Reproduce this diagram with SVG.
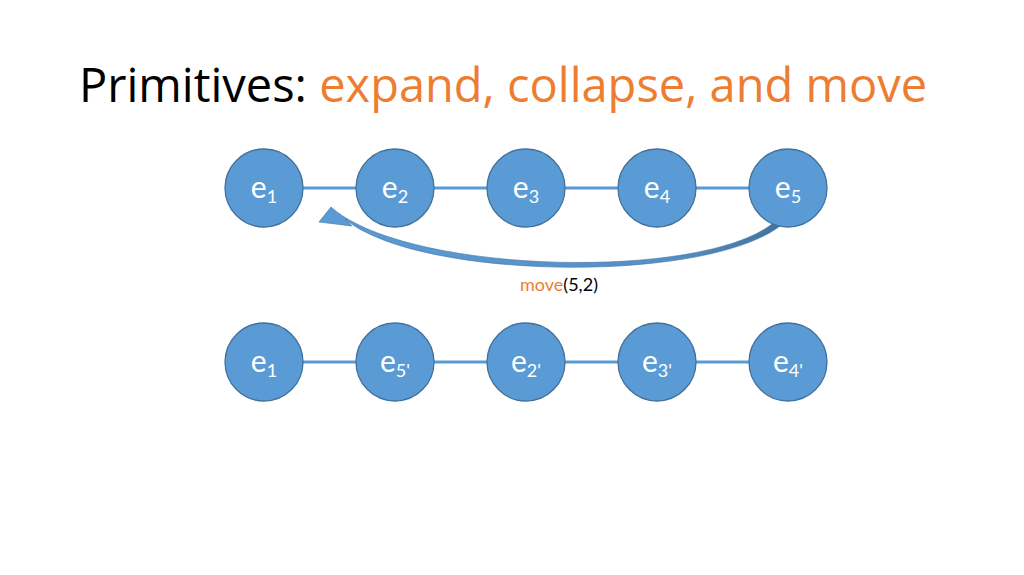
<svg xmlns="http://www.w3.org/2000/svg" width="1024" height="575" viewBox="0 0 1024 575">
<style>
.node{fill:#5B9BD5;stroke:#41719C;stroke-width:1.3}
.edge{stroke:#5B9BD5;stroke-width:3;fill:none}
.lbl{font-family:Lato,"Open Sans",sans-serif;font-size:30px;fill:#fff;text-anchor:middle}
.sub{font-size:18px}
.title{font-family:"Open Sans","Noto Sans",sans-serif;font-size:47px}
</style>
<defs>
<linearGradient id="ag" x1="0" y1="0" x2="1" y2="0">
<stop offset="0" stop-color="#5B9BD5"/>
<stop offset="0.75" stop-color="#5490C8"/>
<stop offset="1" stop-color="#41719C"/>
</linearGradient>
</defs>
<rect width="1024" height="575" fill="#fff"/>
<text class="title" x="79" y="102"><tspan fill="#000">Primitives: </tspan><tspan fill="#ED7D31">expand, collapse, and move</tspan></text>
<g id="connectors">
<line class="edge" x1="264" y1="188" x2="788" y2="188"/>
<line class="edge" x1="264" y1="362" x2="788" y2="362"/>
<path id="move-arrow" d="M319,222 L331,207 L337,212 C420,274 700,280 772,224 L786,221 C720,284 420,282 345,219 L352,226 Z" fill="url(#ag)" stroke="#41719C" stroke-width="0.6"/>
</g>
<g id="n1"><circle class="node" cx="264" cy="188" r="39"/><text class="lbl" x="264" y="198">e<tspan class="sub" dy="5">1</tspan></text></g>
<g id="n2"><circle class="node" cx="395" cy="188" r="39"/><text class="lbl" x="395" y="198">e<tspan class="sub" dy="5">2</tspan></text></g>
<g id="n3"><circle class="node" cx="526" cy="188" r="39"/><text class="lbl" x="526" y="198">e<tspan class="sub" dy="5">3</tspan></text></g>
<g id="n4"><circle class="node" cx="657" cy="188" r="39"/><text class="lbl" x="657" y="198">e<tspan class="sub" dy="5">4</tspan></text></g>
<g id="n5"><circle class="node" cx="788" cy="188" r="39"/><text class="lbl" x="788" y="198">e<tspan class="sub" dy="5">5</tspan></text></g>
<text x="559" y="291" font-family="Lato,'Open Sans',sans-serif" font-size="18" text-anchor="middle"><tspan fill="#ED7D31">move</tspan><tspan fill="#000">(5,2)</tspan></text>
<g id="m1"><circle class="node" cx="264" cy="362" r="39"/><text class="lbl" x="264" y="372">e<tspan class="sub" dy="5">1</tspan></text></g>
<g id="m2"><circle class="node" cx="395" cy="362" r="39"/><text class="lbl" x="395" y="372">e<tspan class="sub" dy="5">5'</tspan></text></g>
<g id="m3"><circle class="node" cx="526" cy="362" r="39"/><text class="lbl" x="526" y="372">e<tspan class="sub" dy="5">2'</tspan></text></g>
<g id="m4"><circle class="node" cx="657" cy="362" r="39"/><text class="lbl" x="657" y="372">e<tspan class="sub" dy="5">3'</tspan></text></g>
<g id="m5"><circle class="node" cx="788" cy="362" r="39"/><text class="lbl" x="788" y="372">e<tspan class="sub" dy="5">4'</tspan></text></g>
</svg>
